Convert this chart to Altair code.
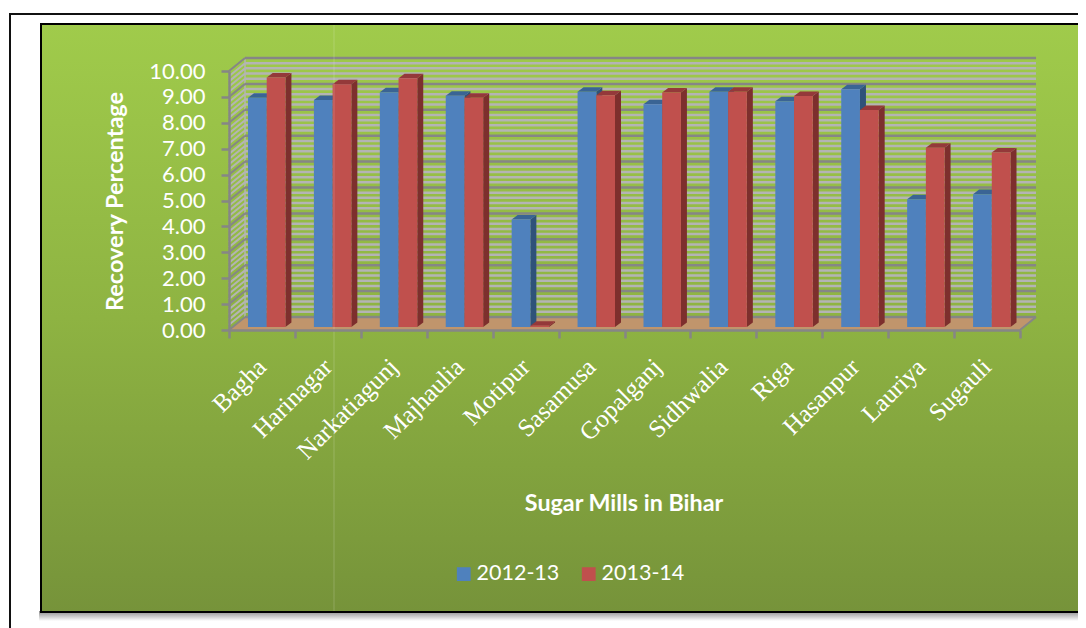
import altair as alt
import pandas as pd

mills = ["Bagha", "Harinagar", "Narkatiagunj", "Majhaulia", "Motipur", "Sasamusa",
         "Gopalganj", "Sidhwalia", "Riga", "Hasanpur", "Lauriya", "Sugauli"]
v1213 = [8.85, 8.76, 9.06, 8.93, 4.15, 9.08, 8.60, 9.08, 8.72, 9.18, 4.93, 5.13]
v1314 = [9.63, 9.37, 9.60, 8.85, 0.05, 8.95, 9.05, 9.08, 8.92, 8.38, 6.92, 6.74]
series = ["2012-13", "2013-14"]
y_ticks = list(range(11))
x_ticks = list(range(13))

# depth geometry, in axis units
WALL_X, WALL_Y = 0.243, 0.502
BAR_BASE = 0.116
BAR_START, BAR_W = 0.288, 0.284
BAR_DX, BAR_DY = 0.091, 0.174

GRAY = "#868686"
LIGHT = "#b4b4b4"
W, H = 791, 259
OX, OY = 229, 71
FONT = "Lato"

x_scale = alt.Scale(domain=[0, 12], range=[0, W], nice=False, zero=False)
y_scale = alt.Scale(domain=[0, 10], range=[H, 0], nice=False, zero=False)

x_axis = alt.Axis(
    values=x_ticks, labels=False, domainColor=GRAY, domainWidth=2.5, tickColor=GRAY,
    tickWidth=2.5, tickSize=8, grid=False, zindex=1, title="Sugar Mills in Bihar",
    titleColor="white", titleFont=FONT, titleFontSize=23.3, titleFontWeight="bold",
    titleX=394.5, titleY=173, titleAnchor="middle", titleAlign="center", titleBaseline="middle")
y_axis = alt.Axis(
    values=y_ticks, format=".2f", labelColor="white", labelFont=FONT, labelFontSize=22,
    labelPadding=16, domainColor=GRAY, domainWidth=2.5, tickColor=GRAY, tickWidth=2.5,
    tickSize=8, grid=False, zindex=1, title="Recovery Percentage", titleColor="white",
    titleFont=FONT, titleFontSize=23.5, titleFontWeight="bold", titleX=-114, titleY=130,
    titleAngle=270, titleAlign="center", titleBaseline="middle")


def X(f="x"):
    return alt.X(f + ":Q", scale=x_scale, axis=x_axis)


def Y(f="y"):
    return alt.Y(f + ":Q", scale=y_scale, axis=y_axis)


# ---- faces
bars, sides, tops = [], [], []
for s, (name, vals) in enumerate(zip(series, (v1213, v1314))):
    for i, v in enumerate(vals):
        x0 = i + BAR_START + s * BAR_W
        x1 = x0 + BAR_W
        t = v + BAR_BASE
        bars.append({"series": name, "x": x0, "x2": x1, "y": t, "y2": BAR_BASE})
        k = f"{s}-{i}"
        sides += [
            {"k": k, "s": name, "x": x1, "y": t, "y2": BAR_BASE},
            {"k": k, "s": name, "x": x1 + BAR_DX, "y": t + BAR_DY, "y2": BAR_BASE + BAR_DY},
        ]
        tops += [
            {"k": k, "s": name, "x": x0, "y": t, "y2": t},
            {"k": k, "s": name, "x": x0 + BAR_DX, "y": t + BAR_DY, "y2": t},
            {"k": k, "s": name, "x": x1, "y": t + BAR_DY, "y2": t},
            {"k": k, "s": name, "x": x1 + BAR_DX, "y": t + BAR_DY, "y2": t + BAR_DY},
        ]
bars = pd.DataFrame(bars)
sides = pd.DataFrame(sides)
tops = pd.DataFrame(tops)


def face(df, name, color):
    return (
        alt.Chart(df[df["s"] == name])
        .mark_area(orient="vertical", color=color, interpolate="linear")
        .encode(x=X(), y=Y(), y2=alt.Y2("y2:Q"), detail="k:N")
    )


# ---- walls
major = [float(v) for v in y_ticks]
minor = [v / 5 for v in range(50) if v % 5 != 0]


def back(levels, color):
    d = pd.DataFrame({"y": [v + WALL_Y for v in levels], "x": WALL_X, "x2": 12 + WALL_X})
    return alt.Chart(d).mark_rule(color=color, strokeWidth=2.5).encode(x=X(), x2="x2:Q", y=Y())


def left(levels, color):
    rows = []
    for v in levels:
        rows += [{"k": v, "x": 0.0, "y": v}, {"k": v, "x": WALL_X, "y": v + WALL_Y}]
    return alt.Chart(pd.DataFrame(rows)).mark_line(color=color, strokeWidth=2).encode(x=X(), y=Y(), detail="k:N")


floor = (
    alt.Chart(pd.DataFrame({
        "x": [0, WALL_X, 12, 12 + WALL_X],
        "y": [0, WALL_Y, WALL_Y, WALL_Y],
        "y2": [0, 0, 0, WALL_Y],
    }))
    .mark_area(orient="vertical", color="#c0956c", interpolate="linear")
    .encode(x=X(), y=Y(), y2=alt.Y2("y2:Q"))
)

right_edge = (
    alt.Chart(pd.DataFrame({"x": [12.0, 12 + WALL_X], "y": [0.0, WALL_Y]}))
    .mark_line(color=GRAY, strokeWidth=2).encode(x=X(), y=Y())
)
back_edge = (
    alt.Chart(pd.DataFrame({"x": [WALL_X], "y": [WALL_Y], "y2": [10 + WALL_Y]}))
    .mark_rule(color=LIGHT, strokeWidth=1.5).encode(x=X(), y=Y(), y2="y2:Q")
)

# ---- page furniture
shadow = (
    alt.Chart(pd.DataFrame({"a": [0]}))
    .mark_rect(fill=alt.Gradient(gradient="linear", x1=0, x2=0, y1=0, y2=1,
                                 stops=[alt.GradientStop(offset=0, color="#8c8c8c"),
                                        alt.GradientStop(offset=1, color="#ffffff")]))
    .encode(x=alt.value(39 - OX), x2=alt.value(1090 - OX), y=alt.value(611 - OY), y2=alt.value(621 - OY))
)
panel = (
    alt.Chart(pd.DataFrame({"a": [0]}))
    .mark_rect(stroke="black", strokeWidth=2,
               fill=alt.Gradient(gradient="linear", x1=0, x2=0, y1=0, y2=1,
                                 stops=[alt.GradientStop(offset=0, color="#a0cb4b"),
                                        alt.GradientStop(offset=0.5, color="#8eb342"),
                                        alt.GradientStop(offset=1, color="#76933a")]))
    .encode(x=alt.value(41 - OX), x2=alt.value(1090 - OX), y=alt.value(24 - OY), y2=alt.value(612 - OY))
)
frame_top = (
    alt.Chart(pd.DataFrame({"a": [0]})).mark_rule(color="#111111", strokeWidth=2)
    .encode(x=alt.value(9 - OX), x2=alt.value(1090 - OX), y=alt.value(14 - OY))
)
frame_left = (
    alt.Chart(pd.DataFrame({"a": [0]})).mark_rule(color="#111111", strokeWidth=2)
    .encode(x=alt.value(10 - OX), y=alt.value(13 - OY), y2=alt.value(628 - OY))
)
seam = (
    alt.Chart(pd.DataFrame({"a": [0]})).mark_rule(color="white", strokeWidth=1, opacity=0.18)
    .encode(x=alt.value(334 - OX), y=alt.value(25 - OY), y2=alt.value(611 - OY))
)

fronts = (
    alt.Chart(bars)
    .mark_rect()
    .encode(
        x=X(), x2="x2:Q", y=Y(), y2="y2:Q",
        color=alt.Color("series:N", scale=alt.Scale(domain=series, range=["#4f81bd", "#c0504d"]),
                        legend=alt.Legend(
                            orient="none", direction="horizontal", title=None, legendX=224, legendY=492,
                            symbolType="square", symbolSize=190, symbolStrokeWidth=0,
                            labelColor="white", labelFont=FONT, labelFontSize=21.5, labelOffset=2,
                            columnPadding=18, rowPadding=0, padding=0)),
    )
)

labels = (
    alt.Chart(pd.DataFrame({"name": mills, "x": [i + 0.50 for i in range(12)], "y": -1.27}))
    .mark_text(angle=315, align="right", baseline="middle", font="Liberation Serif", fontSize=25, color="white")
    .encode(x=X(), y=Y(), text="name:N")
)

chart = alt.layer(
    shadow, panel, frame_top, frame_left,
    floor,
    left(minor, LIGHT), back(minor, LIGHT), back_edge,
    left(major, GRAY), back(major, GRAY), right_edge,
    face(sides, series[0], "#2f5279"), face(tops, series[0], "#3a6494"),
    face(sides, series[1], "#7d2f2d"), face(tops, series[1], "#94393a"),
    fronts, labels, seam,
).properties(
    width=W, height=H,
    autosize=alt.AutoSizeParams(type="none"),
    padding={"left": OX - 8, "top": OY - 8, "right": 1070 - (OX - 8) - W, "bottom": 620 - (OY - 8) - H},
    background="white",
).configure_view(stroke=None)

chart.save("out.html", embed_options={"renderer": "svg", "actions": False})
